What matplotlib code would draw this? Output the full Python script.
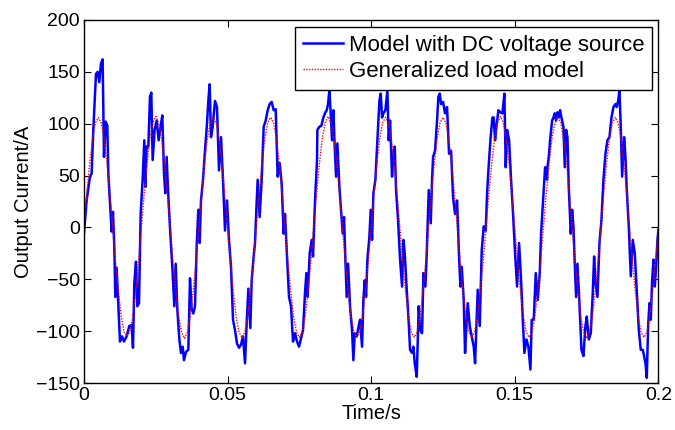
import numpy as np
import matplotlib
matplotlib.use('Agg')
import matplotlib.pyplot as plt

# Blue trace (model with DC voltage source), time in ms, current in A
blue_t_ms = [
    0.00, 0.93, 2.09, 2.67, 3.25, 4.18, 4.76, 5.34, 5.92, 6.50,
    6.97, 7.55, 8.13, 8.48, 9.29, 9.64, 10.10, 10.57, 10.91, 11.38,
    11.84, 12.54, 13.24, 13.93, 14.86, 15.79, 16.60, 17.07, 17.53, 18.11,
    18.58, 19.16, 19.74, 20.43, 21.01, 21.36, 21.83, 22.41, 22.99, 23.45,
    23.92, 24.61, 25.31, 26.01, 26.82, 27.28, 27.86, 28.33, 28.79, 29.26,
    29.95, 30.88, 31.46, 31.93, 32.51, 33.21, 33.79, 34.37, 34.83, 35.53,
    36.34, 36.92, 37.50, 38.08,
    38.66, 39.24, 39.82, 40.29, 40.75, 41.45, 42.14, 42.84, 43.30, 43.77,
    44.23, 44.81, 45.63, 46.32, 47.02, 47.72, 48.41, 49.11, 49.81, 50.50,
    51.20, 51.90, 52.59, 53.29, 53.99, 54.68, 55.38, 56.08, 56.66, 57.24,
    57.93, 58.40, 59.09, 59.56, 60.02, 60.49, 61.18, 61.88, 62.58, 63.27,
    63.97, 64.67, 65.36, 66.06, 66.76, 67.45, 68.15, 68.85, 69.54, 70.01,
    70.70, 71.40, 72.10, 72.79, 73.49, 74.19, 74.88, 75.58, 76.28, 76.97,
    77.44, 77.90, 78.60, 79.30, 79.76, 80.46, 81.15,
    81.27, 81.97, 82.67, 83.36, 84.06, 84.53, 84.99, 85.45, 85.92, 86.38,
    86.85, 87.31, 87.78, 88.24, 88.94, 89.63, 90.10, 90.56, 91.03, 91.49,
    91.96, 92.65, 93.35, 93.81, 94.28, 94.97, 95.67, 96.14, 96.83, 97.30,
    97.76, 98.23, 98.69, 99.39, 99.85, 100.32, 100.78, 101.48, 102.17, 102.87,
    103.33, 103.80, 104.26, 104.96, 105.66, 106.12, 106.59, 107.28, 107.75, 108.21,
    108.68, 109.37, 110.07, 110.77, 111.23, 111.69, 112.39, 113.09, 113.55, 114.25,
    114.71, 115.18, 115.87, 116.57, 117.03, 117.73, 118.20, 118.89, 119.36, 120.05,
    120.75, 121.21,
    121.56, 122.25, 122.95, 123.41, 123.88, 124.34, 125.04, 125.74, 126.43, 127.13,
    127.83, 128.52, 129.22, 129.92, 130.61, 131.08, 131.54, 132.24, 132.70, 133.17,
    133.63, 134.33, 135.02, 135.72, 136.19, 136.65, 137.11, 137.81, 138.51, 139.20,
    139.90, 140.37, 140.83, 141.53, 142.22, 142.69, 143.15, 143.62, 144.31, 145.01,
    145.71, 146.40, 146.87, 147.33, 148.03, 148.72, 149.42, 150.12, 150.81, 151.51,
    152.21, 152.90, 153.37, 154.07, 154.76, 155.46, 155.92, 156.62, 157.32, 158.01,
    158.71, 159.17, 159.87, 160.57, 161.26,
    161.38, 161.85, 162.31, 163.01, 163.47, 163.94, 164.40, 164.87, 165.33, 165.80,
    166.26, 166.96, 167.42, 167.89, 168.35, 168.81, 169.51, 169.98, 170.44, 170.90,
    171.37, 171.83, 172.53, 173.23, 173.92, 174.62, 175.08, 175.78, 176.48, 177.17,
    177.64, 178.10, 178.80, 179.50, 180.19, 180.89, 181.59, 182.28, 182.98, 183.68,
    184.37, 185.07, 185.53, 186.00, 186.46, 186.93, 187.39, 188.09, 188.55, 189.02,
    189.71, 190.41, 191.11, 191.80, 192.50, 193.20, 193.89, 194.59, 195.05, 195.52,
    195.98, 196.45, 196.91, 197.38, 197.84, 198.31, 198.77, 199.23, 199.70, 200.00,
]
blue_i = [
    -6, 26, 49, 52, 94, 148, 150, 140, 158, 162,
    68, 102, 98, 52, 13, -4, 15, -19, -67, -39,
    -67, -110, -105, -110, -105, -95, -94, -116, -54, -33,
    -76, -73, 13, 46, 84, 39, 78, 78, 126, 130,
    65, 94, 103, 84, 100, 108, 52, 33, 68, 36,
    0, -44, -76, -35, -79, -108, -121, -115, -128, -120,
    -118, -49, -79, -83,
    -76, -19, 17, -15, 26, 46, 74, 100, 122, 138,
    87, 97, 122, 116, 55, 87, 46, -3, 26, -12,
    -38, -89, -99, -112, -116, -113, -105, -131, -92, -59,
    -97, -51, -28, -15, 17, 46, 10, 46, 97, 103,
    113, 119, 121, 113, 114, 49, 62, 42, -6, 13,
    -28, -67, -76, -110, -102, -110, -115, -107, -99, -63,
    -44, -67, -25, -12, -28, 26, 65,
    94, 97, 98, 106, 111, 113, 119, 132, 110, 84,
    113, 78, 49, 81, 39, 13, -6, 10, -31, -67,
    -35, -76, -99, -128, -102, -105, -95, -89, -115, -70,
    -51, -67, -31, -9, 17, -12, 33, 46, 84, 122,
    129, 106, 110, 113, 132, 84, 103, 49, 71, 78,
    36, 7, -31, -57, -12, -25, -60, -92, -118, -121,
    -115, -131, -144, -76, -99, -102, -44, -57, -25, 36,
    4, 46,
    68, 74, 103, 126, 129, 119, 121, 110, 116, 71,
    74, 29, 13, 26, -28, -57, -38, -70, -121, -95,
    -73, -95, -105, -115, -131, -95, -60, -95, -22, 1,
    -3, 33, 55, 84, 106, 106, 84, 97, 113, 111,
    110, 129, 58, 94, 84, 46, 13, -25, -57, -15,
    -51, -95, -121, -108, -115, -137, -89, -89, -44, -70,
    -44, -6, 26, 58, 46,
    58, 68, 84, 103, 106, 110, 103, 111, 106, 113,
    106, 97, 58, 94, 87, 39, -6, 17, 1, -35,
    -67, -35, -73, -118, -124, -95, -86, -108, -102, -63,
    -28, -54, -67, -15, 7, 46, 71, 84, 87, 106,
    116, 119, 116, 122, 132, 97, 49, 87, 68, 36,
    1, -47, -12, -25, -63, -99, -118, -118, -124, -131,
    -145, -95, -73, -89, -51, -31, -57, -38, -12, -3,
]

# Red trace (generalized load model), sampled every 1 ms from 0 to 200 ms
red_i = [
    0, 33, 62, 86, 101, 106, 101, 86, 62, 33, 0, -33, -62, -86, -101, -105, -101, -86, -62, -33,
    0, 33, 62, 86, 101, 107, 101, 86, 62, 33, 0, -33, -62, -86, -101, -107, -101, -86, -62, -33,
    0, 33, 62, 86, 101, 106, 101, 86, 62, 33, 0, -33, -62, -86, -101, -106, -101, -86, -62, -33,
    0, 33, 62, 86, 101, 106, 101, 86, 62, 33, 0, -33, -62, -86, -101, -106, -101, -86, -62, -33,
    0, 33, 62, 86, 101, 107, 101, 86, 62, 33, 0, -33, -62, -86, -101, -106, -101, -86, -62, -33,
    0, 33, 62, 86, 101, 106, 101, 86, 62, 33, 0, -33, -62, -86, -101, -106, -101, -86, -62, -33,
    0, 33, 62, 86, 101, 106, 101, 86, 62, 33, 0, -33, -62, -86, -101, -106, -101, -86, -62, -33,
    0, 33, 62, 86, 101, 107, 101, 86, 62, 33, 0, -33, -62, -86, -101, -106, -101, -86, -62, -33,
    0, 33, 62, 86, 101, 106, 101, 86, 62, 33, 0, -33, -62, -86, -101, -106, -101, -86, -62, -33,
    0, 33, 62, 86, 101, 106, 101, 86, 62, 33, 0, -33, -62, -86, -101, -106, -101, -86, -62, -33,
    0,
]
red_t_ms = np.arange(len(red_i))

x_ticks = [0, 0.05, 0.1, 0.15, 0.2]
x_tick_labels = ['0', '0.05', '0.1', '0.15', '0.2']
y_ticks = [-150, -100, -50, 0, 50, 100, 150, 200]

series_labels = ['Model with DC voltage source', 'Generalized load model']

plt.rcParams['font.family'] = ['Liberation Sans', 'DejaVu Sans']

fig = plt.figure(figsize=(6.75, 4.3), dpi=100)
ax = fig.add_axes([0.1244, 0.1093, 0.8509, 0.8442])

ax.plot(np.array(blue_t_ms) / 1000.0, blue_i, color='#0000ff', linewidth=1.8, label=series_labels[0])
ax.plot(red_t_ms / 1000.0, red_i, color='#ff0000', linewidth=1.0, linestyle=(0, (1, 1)), label=series_labels[1])

ax.set_xlim(0, 0.2)
ax.set_ylim(-150, 200)
ax.set_xticks(x_ticks)
ax.set_xticklabels(x_tick_labels)
ax.set_yticks(y_ticks)
ax.tick_params(direction='in', top=True, right=True, length=5, width=0.8, labelsize=14, pad=3)
for s in ax.spines.values():
    s.set_linewidth(1.0)

ax.set_xlabel('Time/s', fontsize=14.5, labelpad=0)
ax.set_ylabel('Output Current/A', fontsize=14.5)
ax.yaxis.set_label_coords(-0.089, 0.5)

leg = ax.legend(loc='upper right', bbox_to_anchor=(0.989, 0.981), borderaxespad=0, fontsize=16,
                fancybox=False, framealpha=1, edgecolor='black', handlelength=1.8,
                handletextpad=0.25, borderpad=0.35, labelspacing=0.25)
leg.get_frame().set_linewidth(1.0)

fig.savefig('out.png', dpi=100)
